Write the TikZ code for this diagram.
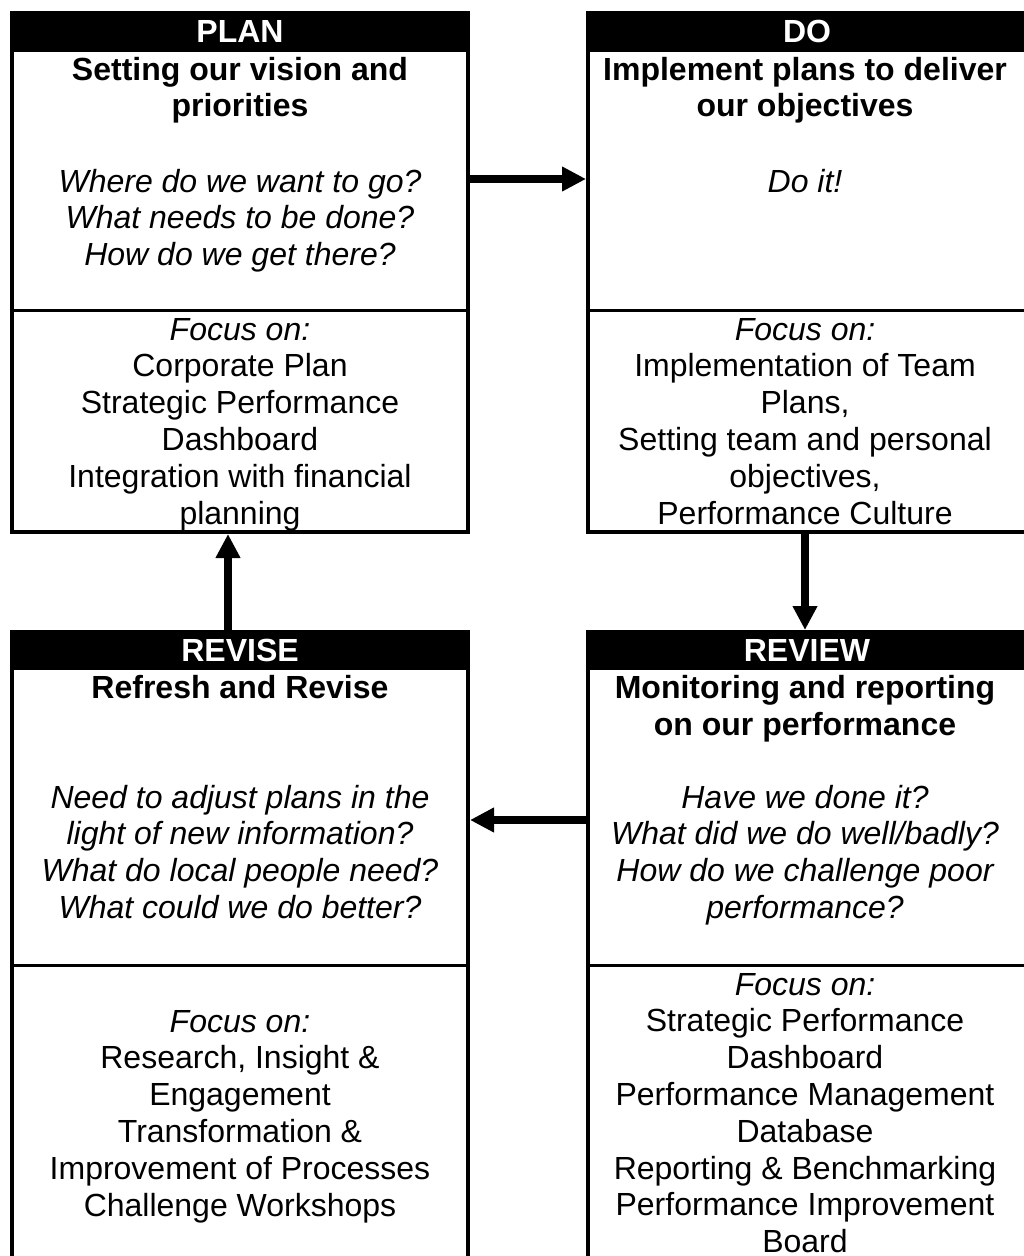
\documentclass[tikz,border=0pt]{standalone}
\usepackage{fontspec}
\setmainfont{Liberation Sans}
\usetikzlibrary{arrows.meta}
\begin{document}
\begin{tikzpicture}[x=0.75pt,y=-0.75pt,
  box/.style={draw=black,line width=3pt,fill=white,rectangle,inner sep=0pt,anchor=north west},
  hdr/.style={fill=black,text=white,font=\fontsize{24pt}{27.6pt}\selectfont\bfseries,inner sep=0pt,outer sep=0pt,anchor=north west},
  ttl/.style={font=\fontsize{24pt}{27.6pt}\selectfont\bfseries,align=center,inner sep=0pt,anchor=base},
  qst/.style={font=\fontsize{24pt}{27.6pt}\selectfont\itshape,align=center,inner sep=0pt,anchor=base},
  fcs/.style={font=\fontsize{24pt}{27.6pt}\selectfont,align=center,inner sep=0pt,anchor=base},
  divl/.style={line width=2.25pt},
  arr/.style={line width=6pt,-{Triangle[length=18pt,width=17.5pt]}}]
\useasboundingbox (0,0) rectangle (1024,1256);
\clip (0,0) rectangle (1024,1256);
% boxes
\node[box,minimum width=342pt,minimum height=389.25pt] (plan) at (10,11) {};
\node[box,minimum width=330pt,minimum height=389.25pt] (do) at (586,11) {};
\node[box,minimum width=342pt,minimum height=501pt] (revise) at (10,630) {};
\node[box,minimum width=330pt,minimum height=501pt] (review) at (586,630) {};
% headers
\node[hdr,minimum width=345pt,minimum height=30.75pt] (planh) at (10,11) {PLAN};
\node[hdr,minimum width=331.5pt,minimum height=30.75pt] (doh) at (586,11) {DO};
\node[hdr,minimum width=345pt,minimum height=30pt] (reviseh) at (10,630) {REVISE};
\node[hdr,minimum width=331.5pt,minimum height=30pt] (reviewh) at (586,630) {REVIEW};
% dividers
\draw[divl] (plan.west |- 0,310) -- (plan.east |- 0,310);
\draw[divl] (do.west |- 0,310) -- (do.east |- 0,310);
\draw[divl] (revise.west |- 0,965) -- (revise.east |- 0,965);
\draw[divl] (review.west |- 0,965) -- (review.east |- 0,965);
% PLAN texts (anchor base = last line)
\node[ttl] (plant) at (240,117) {Setting our vision and\\priorities};
\node[qst] (planq) at (240,265.6) {Where do we want to go?\\What needs to be done?\\How do we get there?};
\node[fcs] (planf) at (240,524) {\textit{Focus on:}\\Corporate Plan\\Strategic Performance\\Dashboard\\Integration with financial\\planning};
% DO texts
\node[ttl] (dot) at (805,117) {Implement plans to deliver\\our objectives};
\node[qst] (doq) at (805,192) {Do it!};
\node[fcs] (dof) at (805,524) {\textit{Focus on:}\\Implementation of Team\\Plans,\\Setting team and personal\\objectives,\\Performance Culture};
% REVISE texts
\node[ttl] (reviset) at (240,698) {Refresh and Revise};
\node[qst] (reviseq) at (240,918.4) {Need to adjust plans in the\\light of new information?\\What do local people need?\\What could we do better?};
\node[fcs] (revisef) at (240,1216) {\textit{Focus on:}\\Research, Insight \&\\Engagement\\Transformation \&\\Improvement of Processes\\Challenge Workshops};
% REVIEW texts
\node[ttl] (reviewt) at (805,735) {Monitoring and reporting\\on our performance};
\node[qst] (reviewq) at (805,918.4) {Have we done it?\\What did we do well/badly?\\How do we challenge poor\\performance?};
\node[fcs] (reviewf) at (805,1252.6) {\textit{Focus on:}\\Strategic Performance\\Dashboard\\Performance Management\\Database\\Reporting \& Benchmarking\\Performance Improvement\\Board};
% arrows
\coordinate (ya) at (0,179);
\coordinate (yb) at (0,820);
\coordinate (xa) at (805,0);
\coordinate (xb) at (228,0);
\draw[arr] (plan.east |- ya) -- (do.west |- ya);
\draw[arr] (do.south -| xa) -- (review.north -| xa);
\draw[arr] (review.west |- yb) -- (revise.east |- yb);
\draw[arr] (revise.north -| xb) -- (plan.south -| xb);
\end{tikzpicture}
\end{document}
